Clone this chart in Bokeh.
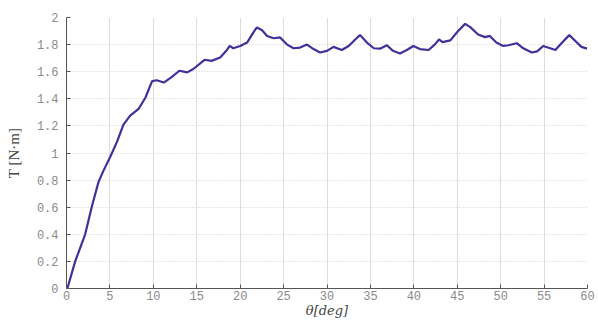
from bokeh.plotting import figure
from bokeh.models import FixedTicker, Range1d
from bokeh.embed import file_html
from bokeh.resources import INLINE

# data
theta = [0.1, 1.0, 2.15, 2.9, 3.68, 4.26, 5.03, 5.8, 6.56, 7.33, 8.3, 9.1, 9.6, 9.86,
         10.4, 11.2, 12.1, 13.0, 13.9, 14.6, 15.9, 16.7, 17.7, 18.4, 18.8, 19.2, 20.0,
         20.8, 21.4, 21.9, 22.5, 23.1, 23.85, 24.6, 25.4, 26.15, 26.9, 27.7, 28.45,
         29.2, 30.0, 30.75, 31.7, 32.5, 33.25, 33.8, 34.6, 35.4, 36.1, 36.9, 37.6,
         38.4, 39.2, 39.95, 40.7, 41.7, 42.4, 42.9, 43.3, 44.2, 45.1, 45.9, 46.5,
         47.4, 48.2, 48.75, 49.5, 50.3, 50.9, 51.85, 52.6, 53.6, 54.2, 54.9, 55.7,
         56.3, 57.0, 57.9, 58.6, 59.3, 59.95]
torque = [0.0, 0.2, 0.40, 0.60, 0.785, 0.87, 0.97, 1.08, 1.21, 1.276, 1.325, 1.41, 1.49, 1.53,
          1.537, 1.52, 1.56, 1.607, 1.595, 1.62, 1.688, 1.68, 1.705, 1.754, 1.79, 1.773, 1.79,
          1.815, 1.877, 1.926, 1.907, 1.864, 1.847, 1.853, 1.80, 1.773, 1.778, 1.80, 1.767,
          1.742, 1.754, 1.783, 1.76, 1.79, 1.838, 1.87, 1.815, 1.773, 1.77, 1.795, 1.754,
          1.735, 1.76, 1.79, 1.767, 1.76, 1.80, 1.838, 1.818, 1.831, 1.90, 1.953, 1.929,
          1.875, 1.855, 1.864, 1.815, 1.79, 1.795, 1.81, 1.773, 1.742, 1.75, 1.79, 1.773,
          1.76, 1.81, 1.87, 1.827, 1.783, 1.77]

x_ticks = [0, 5, 10, 15, 20, 25, 30, 35, 40, 45, 50, 55, 60]
y_ticks = [0, 0.2, 0.4, 0.6, 0.8, 1.0, 1.2, 1.4, 1.6, 1.8, 2.0]
y_tick_labels = ["0", "0.2", "0.4", "0.6", "0.8", "1", "1.2", "1.4", "1.6", "1.8", "2"]

p = figure(width=598, height=320, output_backend="svg", toolbar_location=None,
           x_range=Range1d(0, 60), y_range=Range1d(0, 2),
           min_border_left=66, min_border_right=11, min_border_top=17, min_border_bottom=32)
p.outline_line_color = None
p.background_fill_color = "white"

p.line(theta, torque, line_color="#40309a", line_width=2.2)

p.xaxis.ticker = FixedTicker(ticks=x_ticks)
p.yaxis.ticker = FixedTicker(ticks=y_ticks)
p.yaxis.major_label_overrides = {t: l for t, l in zip(y_ticks, y_tick_labels)}

for ax in (p.xaxis[0], p.yaxis[0]):
    ax.axis_line_color = "#555555"
    ax.axis_line_width = 1
    ax.major_tick_in = 4
    ax.major_tick_out = 0
    ax.major_tick_line_color = "#555555"
    ax.minor_tick_line_color = None
    ax.major_label_text_font = "Liberation Mono"
    ax.major_label_text_font_size = "12px"
    ax.major_label_text_color = "#8a8a8a"
    ax.axis_label_text_font = "DejaVu Serif"
    ax.axis_label_text_font_size = "13px"
    ax.axis_label_text_color = "#444444"
    ax.axis_label_text_font_style = "italic"

p.xaxis.axis_label = "θ[deg]"
p.yaxis.axis_label = "T [N·m]"
p.xaxis.major_label_standoff = 2
p.xaxis.axis_label_standoff = 0
p.yaxis.major_label_standoff = 8
p.yaxis.axis_label_standoff = 12
p.yaxis.axis_label_text_font = "Liberation Serif"
p.yaxis.axis_label_text_font_size = "15px"
p.yaxis.axis_label_text_font_style = "normal"

p.xgrid.grid_line_color = "#dddddd"
p.xgrid.grid_line_width = 1
p.ygrid.grid_line_color = "#cccccc"
p.ygrid.grid_line_dash = "1 2"
p.ygrid.grid_line_width = 1

open("out.html", "w").write(file_html(p, INLINE))
